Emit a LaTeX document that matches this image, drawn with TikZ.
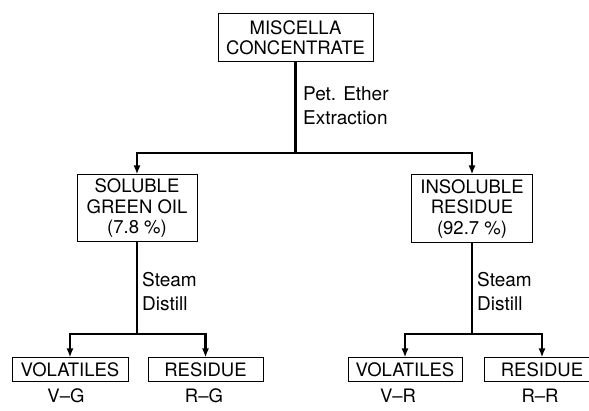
\documentclass[tikz,border=0pt]{standalone}
\usepackage{fontspec}
\setmainfont{TeX Gyre Heros}
\usetikzlibrary{arrows.meta}

\begin{document}
\begin{tikzpicture}[x=1pt,y=-1pt,
    box/.style={draw, line width=1pt, align=center, inner sep=0pt, font=\fontsize{18.5}{20.5}\selectfont},
    lbl/.style={align=left, inner sep=0pt, anchor=west, font=\fontsize{19}{24}\selectfont},
    tag/.style={inner sep=0pt, font=\fontsize{18.5}{20}\selectfont},
    flow/.style={line width=2.6pt, -{Latex[length=9pt,width=7pt]}}]
                        \clip (0,0) rectangle (589,411);
                        % Nodes
                        \node[box, minimum width=155pt, minimum height=48pt] (misc) at (295.5,38) {MISCELLA\\CONCENTRATE};
                        \node[box, minimum width=120pt, minimum height=67pt] (sol) at (137,208.5) {SOLUBLE\\GREEN OIL\\(7.8 \%)};
                        \node[box, minimum width=121pt, minimum height=68pt] (insol) at (472,209) {INSOLUBLE\\RESIDUE\\(92.7 \%)};
                        \node[box, minimum width=116pt, minimum height=24pt] (volg) at (70,370) {VOLATILES};
                        \node[box, minimum width=115pt, minimum height=24pt] (resg) at (205.5,370) {RESIDUE};
                        \node[box, minimum width=114pt, minimum height=24pt] (volr) at (405,370) {VOLATILES};
                        \node[box, minimum width=115pt, minimum height=24pt] (resr) at (542,370) {RESIDUE};

                        \node[tag] (vg) at (66,396) {V--G};
                        \node[tag] (rg) at (204,396) {R--G};
                        \node[tag] (vr) at (398,396) {V--R};
                        \node[tag] (rr) at (540,396) {R--R};

                        \node[lbl] (pet) at (303,106) {Pet. Ether\\Extraction};
                        \node[lbl] (sd1) at (142,292) {Steam\\Distill};
                        \node[lbl] (sd2) at (477,292) {Steam\\Distill};

                        \coordinate (top) at (295.5,153);
                        \coordinate (left) at (137,334);
                        \coordinate (right) at (472,334);

                        % Edges
                        \draw[flow,-] (misc) -- (top);
                        \draw[flow] (top) -| (sol);
                        \draw[flow] (top) -| (insol);

                        \draw[flow,-] (sol) -- (left);
                        \draw[flow] (left) -| (volg);
                        \draw[flow] (left) -| (resg);

                        \draw[flow,-] (insol) -- (right);
                        \draw[flow] (right) -| (volr);
                        \draw[flow] (right) -| (resr);
                    \end{tikzpicture}
\end{document}
